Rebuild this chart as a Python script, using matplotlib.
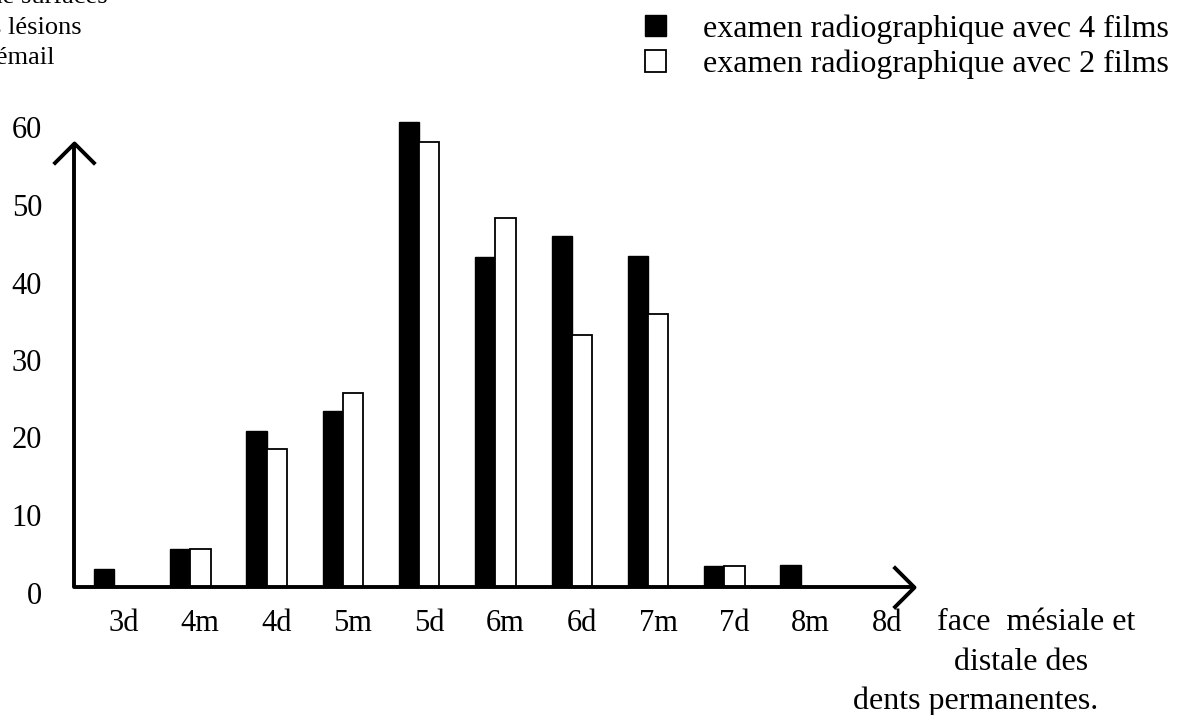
import numpy as np
import matplotlib
matplotlib.use("Agg")
import matplotlib.pyplot as plt
from matplotlib.path import Path
from matplotlib.transforms import ScaledTranslation

plt.rcParams['font.family'] = ['Liberation Serif', 'DejaVu Serif']

# faces of the permanent teeth
faces = ['3d', '4m', '4d', '5m', '5d', '6m', '6d', '7m', '7d', '8m', '8d']
films_4 = [2.2, 4.8, 20.1, 22.6, 59.9, 42.5, 45.2, 42.7, 2.7, 2.8, 0]
films_2 = [0, 4.9, 17.7, 25.0, 57.3, 47.5, 32.5, 35.2, 2.7, 0, 0]
yticks = [0, 10, 20, 30, 40, 50, 60]
series_labels = ['examen radiographique avec 4 films',
                 'examen radiographique avec 2 films']

fs = 22
fs_text = 23
fig = plt.figure(figsize=(11.79, 7.15), dpi=100)
ax = fig.add_axes([74 / 1179, 128.5 / 715, 840 / 1179, 480.5 / 715])

x = np.arange(len(faces))
w = 0.265
ax.bar(x - w / 2, films_4, w, color='black', edgecolor='black', lw=1.0,
       label=series_labels[0])
ax.bar(x + w / 2, films_2, w, color='white', edgecolor='black', lw=1.3,
       label=series_labels[1])

xmin, xmax = -0.524, 10.485
ytop = 57.2
ax.set_xlim(xmin, xmax)
ax.set_ylim(0, 62)

# hand-drawn looking axes with open arrow heads
ax.plot([xmin, xmin, xmax], [ytop, 0, 0], color='black', lw=2.8,
        solid_joinstyle='round', solid_capstyle='butt', clip_on=False, zorder=5)
up = Path([(-1, -1), (0, 0), (1, -1)], [Path.MOVETO, Path.LINETO, Path.LINETO])
right = Path([(-1, -1), (0, 0), (-1, 1)], [Path.MOVETO, Path.LINETO, Path.LINETO])
ax.plot([xmin], [ytop], marker=up, ms=30, mfc='none', mec='black', mew=2.8,
        clip_on=False, zorder=6)
ax.plot([xmax], [0], marker=right, ms=30, mfc='none', mec='black', mew=2.8,
        clip_on=False, zorder=6)

for s in ax.spines.values():
    s.set_visible(False)
ax.set_xticks(x, faces, fontsize=fs)
ax.set_yticks(yticks, [str(v) for v in yticks], fontsize=fs)
ax.tick_params(axis='both', length=0)
ax.tick_params(axis='x', pad=16)
ax.tick_params(axis='y', pad=23)
yshift = ScaledTranslation(0, -6 / 100, fig.dpi_scale_trans)
for t in ax.get_yticklabels():
    t.set_transform(t.get_transform() + yshift)
xshift = ScaledTranslation(10 / 100, 0, fig.dpi_scale_trans)
for t in ax.get_xticklabels():
    t.set_transform(t.get_transform() + xshift)

# y axis title (cut at the page edge in the source)
fig.text(108 / 1179, 1 + 3 / 715, 'Nombre de surfaces', ha='right', va='center', fontsize=19)
fig.text(82 / 1179, 1 - 28 / 715, 'avec des lésions', ha='right', va='center', fontsize=19)
fig.text(55 / 1179, 1 - 58 / 715, "de l'émail", ha='right', va='center', fontsize=19)

# x axis title
fig.text(937 / 1179, 1 - 630 / 715, 'face  mésiale et', ha='left', va='baseline', fontsize=fs_text)
fig.text(1021 / 1179, 1 - 670 / 715, 'distale des', ha='center', va='baseline', fontsize=fs_text)
fig.text(976 / 1179, 1 - 709 / 715, 'dents permanentes.', ha='center', va='baseline', fontsize=fs_text)

fig.legend(loc='upper left', bbox_to_anchor=(645 / 1179, 1 - 14 / 715),
           frameon=False, fontsize=fs_text, handlelength=0.66, handleheight=0.66,
           handletextpad=1.15, labelspacing=0.2, borderpad=0, borderaxespad=0)

fig.savefig('out.png', dpi=100)
